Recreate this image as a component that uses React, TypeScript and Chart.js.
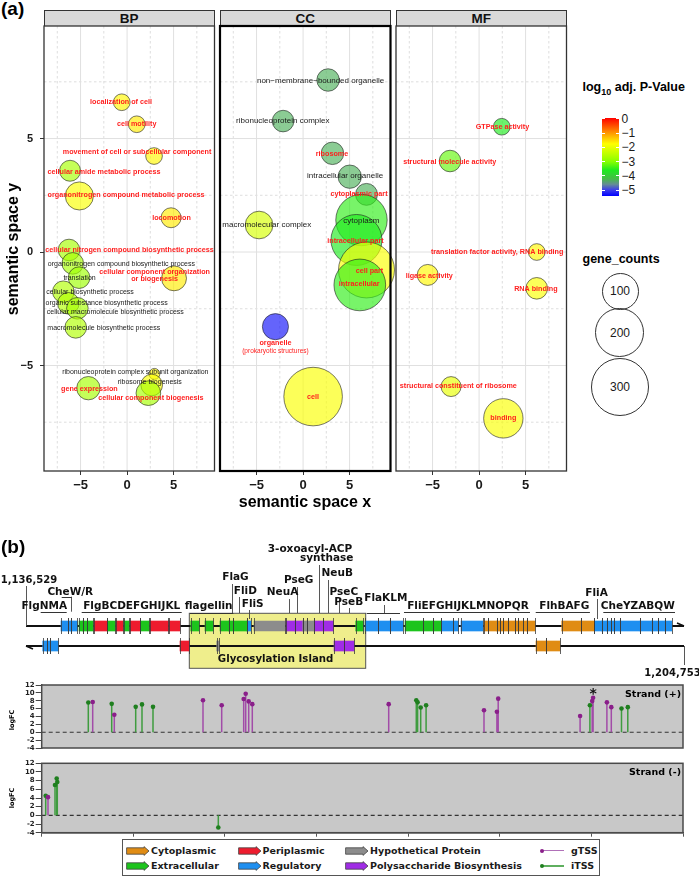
import React, { useEffect, useRef } from 'react';
import { Chart, registerables } from 'chart.js';

Chart.register(...registerables);

const SANS = '"Liberation Sans", Arial, Helvetica, sans-serif';
const VERD = '"DejaVu Sans", Verdana, sans-serif';

/* ================= (a) GO terms in semantic space ================= */
const X_MIN = -8.93, X_MAX = 9.4, Y_MIN = -9.65, Y_MAX = 9.96;
const majorGrid = [-5, 0, 5];
const minorGrid = [-7.5, -2.5, 2.5, 7.5];

// BP
const bpTerms = ['localization of cell', 'cell motility', 'movement of cell or subcellular component', 'cellular amide metabolic process', 'organonitrogen compound metabolic process', 'locomotion', 'cellular nitrogen compound biosynthetic process', 'organonitrogen compound biosynthetic process', 'translation', 'cellular biosynthetic process', 'organic substance biosynthetic process', 'cellular macromolecule biosynthetic process', 'macromolecule biosynthetic process', 'cellular component organization\nor biogenesis', 'ribonucleoprotein complex subunit organization', 'ribosome biogenesis', 'gene expression', 'cellular component biogenesis'];
const bpX = [-0.57, 1.04, 2.9, -6.13, -5.13, 4.73, -6.24, -5.84, -5.16, -6.85, -6.31, -5.34, -5.52, 5.05, 2.94, 2.65, -4.16, 2.29];
const bpY = [6.6, 5.63, 4.23, 3.58, 2.47, 1.51, 0.09, -0.5, -1.13, -1.75, -2.26, -2.48, -3.32, -1.16, -5.37, -5.86, -6.0, -6.22];
const bpCounts = [9, 9, 9, 20, 48, 17, 22, 22, 22, 22, 22, 22, 22, 34, 1, 22, 28, 33];
const bpLogP = [-1.7, -1.6, -1.7, -2.7, -1.8, -1.6, -2.7, -2.7, -2.8, -2.6, -2.6, -2.7, -2.6, -1.6, -1.7, -1.8, -2.7, -2.7];
const bpLabelX = [-0.65, 1.04, 1.08, -2.47, -0.11, 4.78, 0.27, -0.61, -5.11, -3.98, -2.2, -1.26, -2.51, 2.96, 0.89, 2.44, -4.05, 2.56];
const bpLabelY = [6.61, 5.64, 4.39, 3.54, 2.51, 1.5, 0.09, -0.53, -1.16, -1.78, -2.23, -2.63, -3.33, -1.04, -5.27, -5.73, -6.02, -6.44];
const bpSig = [1, 1, 1, 1, 1, 1, 1, 0, 0, 0, 0, 0, 0, 1, 0, 0, 1, 1];

// CC
const ccTerms = ['non\u2212membrane\u2212bounded organelle', 'ribonucleoprotein complex', 'ribosome', 'intracellular organelle', 'cytoplasmic part', 'macromolecular complex', 'cytoplasm', 'intracellular part', 'cell part', 'intracellular', 'organelle\n(prokaryotic structures)', 'cell'];
const ccX = [2.69, -2.15, 3.16, 5.02, 6.82, -4.73, 6.28, 5.74, 6.82, 6.1, -2.97, 1.08];
const ccY = [7.58, 5.77, 4.35, 3.32, 2.54, 1.19, 1.41, 0.53, -0.79, -1.45, -3.29, -6.37];
const ccCounts = [25, 22, 25, 28, 23, 46, 224, 220, 274, 227, 39, 304];
const ccLogP = [-4.3, -4.3, -4.3, -4.3, -4.3, -2.2, -3.5, -3.6, -1.8, -3.5, -5.3, -1.8];
const ccLabelX = [1.88, -2.18, 3.11, 4.52, 6.01, -3.9, 6.26, 5.63, 7.14, 6.04, -2.97, 1.08];
const ccLabelY = [7.56, 5.77, 4.32, 3.35, 2.57, 1.19, 1.37, 0.5, -0.82, -1.42, -4.19, -6.4];
const ccSig = [0, 0, 1, 0, 1, 0, 0, 1, 1, 1, 1, 1];

// MF
const mfTerms = ['GTPase activity', 'structural molecule activity', 'translation factor activity, RNA binding', 'ligase activity', 'RNA binding', 'structural constituent of ribosome', 'binding'];
const mfX = [2.44, -3.12, 6.2, -5.52, 6.2, -3.01, 2.61];
const mfY = [5.52, 4.01, 0.0, -1.01, -1.6, -5.93, -7.33];
const mfCounts = [9, 22, 9, 20, 22, 17, 117];
const mfLogP = [-3.6, -3.2, -1.7, -1.7, -1.8, -2.0, -1.8];
const mfLabelX = [2.51, -3.15, 1.94, -5.35, 6.11, -2.23, 2.61];
const mfLabelY = [5.51, 3.98, 0.01, -1.04, -1.64, -5.9, -7.33];
const mfSig = [1, 1, 1, 1, 1, 1, 1];

const pValueTicks = [0, -1, -2, -3, -4, -5];
const P_TOP = 0.07, P_BOTTOM = -5.42;
const sizeLegendCounts = [100, 200, 300];

/* ================= (b) flagellar locus ================= */
const GENOME_START = 1136529;
const GENOME_END = 1204753;
const MAP_MIN = 1133833, MAP_MAX = 1206308;
const GLYCO = [1153461, 1171750];

const fwdStart = [1140158, 1140915, 1141164, 1142024, 1142408, 1142885, 1143580, 1144959, 1145829, 1146690, 1147312, 1148380, 1149355, 1151325, 1153606, 1155088, 1156644, 1157546, 1158023, 1159412, 1160169, 1163487, 1164389, 1165219, 1165633, 1166390, 1167354, 1170714, 1171678, 1173057, 1174270, 1175825, 1177723, 1178760, 1179558, 1180833, 1181632, 1184016, 1184462, 1185333, 1185675, 1186017, 1186536, 1187230, 1187573, 1188091, 1188444, 1192072, 1194043, 1195453, 1196220, 1196738, 1197153, 1197495, 1198117, 1200191, 1201404, 1202088, 1202783];
const fwdEnd = [1140915, 1141164, 1141848, 1142408, 1142885, 1143507, 1144896, 1145788, 1146618, 1147240, 1148349, 1149313, 1151283, 1152496, 1154466, 1155949, 1157546, 1158023, 1159412, 1159827, 1163383, 1164389, 1165219, 1165633, 1166390, 1167354, 1168391, 1171502, 1173057, 1174270, 1175587, 1177723, 1178760, 1179558, 1180833, 1181352, 1183882, 1184462, 1185333, 1185675, 1186017, 1186536, 1187230, 1187573, 1188091, 1188444, 1189304, 1194043, 1195453, 1196220, 1196738, 1197153, 1197495, 1198117, 1200191, 1201404, 1202088, 1202783, 1203478];
const fwdType = ('RRREEEPEPEPEPP' + 'EEEEE' + 'R' + 'H' + 'SS' + 'HH' + 'SS' + 'E' + 'RRR' + 'EEE' + 'RRR' + 'CCCCCCCCCCCC' + 'RRRRRRRRRR').split('');
const revStart = [1138261, 1138675, 1139017, 1152496, 1156302, 1168464, 1169501, 1189408, 1190445];
const revEnd = [1138675, 1139017, 1139878, 1153429, 1156540, 1169501, 1170537, 1190445, 1191896];
const revType = 'RRRPHSSCC'.split('');

const typeCodes = ['C', 'E', 'P', 'R', 'H', 'S'];
const typeNames = ['Cytoplasmic', 'Extracellular', 'Periplasmic', 'Regulatory', 'Hypothetical Protein', 'Polysaccharide Biosynthesis'];
const typeColors = ['#E08C14', '#1DC41D', '#EE1C2E', '#1E8FF0', '#8C8C8C', '#A02CE6'];

const mapLabelText = ['1,136,529', 'CheW/R', 'FlgNMA', 'FlgBCDEFGHIJKL', 'flagellin', 'FlaG', 'FliD', 'FliS', 'NeuA', 'PseG', '3-oxoacyl-ACP', 'synthase', 'NeuB', 'PseC', 'PseB', 'FlaKLM', 'FliEFGHIJKLMNOPQR', 'FlhBAFG', 'FliA', 'CheYZABQW', '1,204,753'];
const mapLabelPos = [1136840, 1141122, 1138416, 1147488, 1155472, 1158251, 1159268, 1160035, 1163124, 1164803, 1165974, 1167706, 1168795, 1169479, 1169998, 1173835, 1182357, 1192343, 1195681, 1199962, 1203560];
const mapLabelRow = [580, 592.3, 606.7, 606.7, 606.7, 577.3, 591.7, 604, 592.7, 580.7, 549.3, 558.7, 573.3, 592, 602, 598.3, 606.7, 606.7, 593.3, 606.7, 673];
const underlineStart = [1138053, 1140230, 1142304, 1153533, 1171854, 1175721, 1189377, 1196386];
const underlineEnd = [1140749, 1141267, 1152672, 1158027, 1175307, 1188785, 1194999, 1203820];
const underlineRow = [611.7, 596.7, 612, 612.7, 613, 612, 612, 612];
const stemPos = [1141195, 1157857, 1158645, 1159682, 1163829, 1164658, 1166909, 1167873, 1168982, 1170019, 1173648, 1195763, GENOME_START, GENOME_END];
const stemTop = [596.7, 584, 597, 610, 599, 587, 565, 580, 598, 608, 605, 599, 586, 646];
const stemBottom = [611.7, 613, 613, 619, 613, 613, 613, 613, 613, 613, 613, 619, 626, 665];

// TSS lollipops (genome position, logFC)
const LOLLI_MIN = 1136446, LOLLI_MAX = 1204886;
const plusGPos = [1141889, 1144194, 1153660, 1155656, 1158003, 1158217, 1158537, 1158921, 1173478, 1183648, 1185025, 1185164, 1193904, 1195195, 1195291, 1196764, 1197234];
const plusGVal = [7.68, 4.43, 8.14, 6.84, 8.46, 9.76, 7.84, 7.14, 7.14, 5.59, 5.22, 8.53, 4.13, 7.91, 8.77, 7.6, 6.38];
const plusIPos = [1141419, 1143916, 1146478, 1147150, 1148324, 1176423, 1176562, 1176893, 1177469, 1194950, 1198322, 1198994];
const plusIVal = [7.54, 7.21, 6.45, 7.07, 6.45, 8.14, 7.6, 6.28, 6.84, 6.84, 6.05, 6.38];
const minusGPos = [1137118];
const minusGVal = [4.2];
const minusIPos = [1136873, 1137865, 1138047, 1138111, 1155293];
const minusIVal = [4.5, 7.0, 8.5, 7.7, -2.8];
const STAR_POS = 1195291;

/* ================= helpers ================= */
const radiusFor = (n: number) => 4 + 1.45 * Math.sqrt(n);

const colorStops: [number, number[]][] = [
  [-5.42, [0, 0, 255]],
  [-5.0, [60, 60, 235]],
  [-4.6, [100, 140, 150]],
  [-4.2, [70, 188, 70]],
  [-3.6, [30, 235, 30]],
  [-3.0, [135, 255, 0]],
  [-2.6, [176, 255, 0]],
  [-1.75, [255, 255, 0]],
  [-1.0, [255, 153, 0]],
  [0.07, [255, 0, 0]],
];
function pRGB(v: number): number[] {
  const s = colorStops;
  if (v <= s[0][0]) return s[0][1];
  for (let i = 1; i < s.length; i++) {
    if (v <= s[i][0]) {
      const t = (v - s[i - 1][0]) / (s[i][0] - s[i - 1][0]);
      return s[i - 1][1].map((c, k) => Math.round(c + t * (s[i][1][k] - c)));
    }
  }
  return s[s.length - 1][1];
}
const pColor = (v: number, a = 1) => {
  const [r, g, b] = pRGB(v);
  return `rgba(${r},${g},${b},${a})`;
};
const minus = (v: number) => (v < 0 ? '\u2212' + Math.abs(v) : String(v));

const panelPlugin = {
  id: 'goPanel',
  beforeDatasetsDraw(chart: any) {
    const { ctx, chartArea: a } = chart;
    const xs = chart.scales.x, ys = chart.scales.y;
    ctx.save();
    ctx.fillStyle = '#ffffff';
    ctx.fillRect(a.left, a.top, a.right - a.left, a.bottom - a.top);
    ctx.lineWidth = 0.8;
    ctx.strokeStyle = '#d6d6d6';
    ctx.setLineDash([2.5, 2.5]);
    ctx.beginPath();
    for (const v of minorGrid) {
      const px = xs.getPixelForValue(v);
      ctx.moveTo(px, a.top); ctx.lineTo(px, a.bottom);
      const py = ys.getPixelForValue(v);
      ctx.moveTo(a.left, py); ctx.lineTo(a.right, py);
    }
    ctx.stroke();
    ctx.setLineDash([]);
    ctx.lineWidth = 1;
    ctx.strokeStyle = '#e0e0e0';
    ctx.beginPath();
    for (const v of majorGrid) {
      const px = xs.getPixelForValue(v);
      ctx.moveTo(px, a.top); ctx.lineTo(px, a.bottom);
      const py = ys.getPixelForValue(v);
      ctx.moveTo(a.left, py); ctx.lineTo(a.right, py);
    }
    ctx.stroke();
    ctx.restore();
  },
  afterDatasetsDraw(chart: any, _args: any, o: any) {
    const { ctx } = chart;
    const xs = chart.scales.x, ys = chart.scales.y;
    ctx.save();
    ctx.textAlign = 'center';
    ctx.textBaseline = 'middle';
    o.texts.forEach((t: string, i: number) => {
      const px = xs.getPixelForValue(o.lx[i]);
      const py = ys.getPixelForValue(o.ly[i]);
      const lines = t.split('\n');
      const lh = 7.5;
      lines.forEach((ln, k) => {
        const yy = py + (k - (lines.length - 1) / 2) * lh;
        if (o.sig[i]) {
          ctx.fillStyle = '#ff1f1f';
          ctx.font = ln.startsWith('(') ? `6.5px ${SANS}` : `bold 7.2px ${SANS}`;
        } else {
          ctx.fillStyle = '#1a1a1a';
          ctx.font = `${o.plainSize}px ${SANS}`;
        }
        ctx.fillText(ln, px, yy);
      });
    });
    ctx.restore();
  },
  afterDraw(chart: any, _args: any, o: any) {
    const { ctx, chartArea: a } = chart;
    ctx.save();
    ctx.strokeStyle = o.borderColor;
    ctx.lineWidth = o.borderWidth;
    ctx.strokeRect(a.left, a.top, a.right - a.left, a.bottom - a.top);
    ctx.restore();
  },
};

const PANEL_CANVAS_TOP = 8;
const PANEL_TOP = 26;
const PANEL_BOTTOM = 471;

function GoPanel(props: any) {
  const { terms, xs, ys, counts, logp, lx, ly, sig, left, width, padL, padR, showY, plainSize, borderWidth, borderColor } = props;
  const ref = useRef<HTMLCanvasElement>(null);
  const top = PANEL_CANVAS_TOP, height = PANEL_BOTTOM - PANEL_CANVAS_TOP + 28;
  useEffect(() => {
    const chart = new Chart(ref.current as HTMLCanvasElement, {
      type: 'bubble',
      data: {
        datasets: [{
          data: xs.map((v: number, i: number) => ({ x: v, y: ys[i], r: radiusFor(counts[i]) })),
          backgroundColor: logp.map((v: number) => pColor(v, 0.65)),
          borderColor: 'rgba(30,30,30,0.75)',
          borderWidth: 0.8,
          clip: false,
        } as any],
      },
      options: {
        animation: false,
        responsive: false,
        events: [],
        layout: { autoPadding: false, padding: { left: padL, right: padR, top: PANEL_TOP - PANEL_CANVAS_TOP, bottom: 0 } },
        plugins: {
          legend: { display: false },
          tooltip: { enabled: false },
          goPanel: { texts: terms, lx, ly, sig, plainSize, borderWidth, borderColor },
        } as any,
        scales: {
          x: {
            type: 'linear', min: X_MIN, max: X_MAX,
            border: { display: false },
            grid: { display: true, drawOnChartArea: false, drawTicks: true, tickLength: 4, tickColor: '#333', tickWidth: 1 },
            ticks: { stepSize: 5, includeBounds: false, autoSkip: false, padding: 3, color: '#1a1a1a', font: { family: SANS, size: 13, weight: 'bold' }, callback: (v: any) => minus(Number(v)) },
            afterFit: (s: any) => { s.height = 28; },
          },
          y: {
            type: 'linear', min: Y_MIN, max: Y_MAX, display: showY,
            border: { display: false },
            grid: { display: true, drawOnChartArea: false, drawTicks: true, tickLength: 4, tickColor: '#333', tickWidth: 1 },
            ticks: { stepSize: 5, includeBounds: false, autoSkip: false, padding: 7, color: '#1a1a1a', font: { family: SANS, size: 11, weight: 'bold' }, callback: (v: any) => minus(Number(v)) },
            afterFit: (s: any) => { s.width = showY ? 44 : 0; },
          },
        } as any,
      },
      plugins: [panelPlugin],
    } as any);
    return () => chart.destroy();
  }, []);
  return <canvas ref={ref} width={width} height={height} style={{ position: 'absolute', left, top, width, height }} />;
}

/* ---------------- gene map ---------------- */
const GENE_TOP = 535;
const genePlugin = {
  id: 'geneMap',
  beforeDatasetsDraw(chart: any) {
    const { ctx } = chart;
    const x = chart.scales.x, y = chart.scales.y;
    const X = (v: number) => x.getPixelForValue(v);
    const yf = y.getPixelForValue(0), yr = y.getPixelForValue(1);
    ctx.save();
    const g1 = X(GLYCO[0]), g2 = X(GLYCO[1]);
    ctx.fillStyle = '#EFEE8C';
    ctx.fillRect(g1, yf - 12.7, g2 - g1, yr - yf + 35);
    ctx.strokeStyle = '#555';
    ctx.lineWidth = 1;
    ctx.strokeRect(g1, yf - 12.7, g2 - g1, yr - yf + 35);
    const xs = X(GENOME_START), xe = X(GENOME_END);
    ctx.strokeStyle = '#111';
    ctx.lineWidth = 2;
    ctx.beginPath();
    ctx.moveTo(xs, yf); ctx.lineTo(xe, yf);
    ctx.moveTo(xs, yr); ctx.lineTo(xe, yr);
    ctx.stroke();
    ctx.lineWidth = 1.6;
    ctx.beginPath();
    ctx.moveTo(xe - 7, yf - 3); ctx.lineTo(xe, yf);
    ctx.moveTo(xs + 7, yr + 3); ctx.lineTo(xs, yr);
    ctx.stroke();
    ctx.strokeStyle = '#444';
    ctx.lineWidth = 0.9;
    ctx.beginPath();
    stemPos.forEach((p, i) => {
      const px = Math.round(X(p)) + 0.5;
      ctx.moveTo(px, stemTop[i] - GENE_TOP); ctx.lineTo(px, stemBottom[i] - GENE_TOP);
    });
    ctx.stroke();
    ctx.strokeStyle = '#333';
    ctx.lineWidth = 1;
    ctx.beginPath();
    underlineStart.forEach((s, i) => {
      const py = Math.round(underlineRow[i] - GENE_TOP) + 0.5;
      ctx.moveTo(X(s), py); ctx.lineTo(X(underlineEnd[i]), py);
    });
    ctx.stroke();
    ctx.restore();
  },
  afterDatasetsDraw(chart: any) {
    const { ctx } = chart;
    const x = chart.scales.x, y = chart.scales.y;
    const X = (v: number) => x.getPixelForValue(v);
    const yf = y.getPixelForValue(0), yr = y.getPixelForValue(1);
    ctx.save();
    ctx.strokeStyle = '#3a3a3a';
    ctx.lineWidth = 0.8;
    ctx.beginPath();
    const tick = (v: number, yy: number) => {
      const px = Math.round(X(v)) + 0.5;
      ctx.moveTo(px, yy - 8); ctx.lineTo(px, yy + 8);
    };
    fwdStart.forEach((s, i) => { tick(s, yf); tick(fwdEnd[i], yf); });
    revStart.forEach((s, i) => { tick(s, yr); tick(revEnd[i], yr); });
    ctx.stroke();
    ctx.fillStyle = '#111';
    ctx.textAlign = 'center';
    ctx.textBaseline = 'middle';
    mapLabelText.forEach((t, i) => {
      ctx.font = t.startsWith('1,') ? `bold 10px ${VERD}` : `bold 10.5px ${VERD}`;
      ctx.fillText(t, X(mapLabelPos[i]), mapLabelRow[i] - GENE_TOP);
    });
    ctx.font = `bold 10.2px ${VERD}`;
    ctx.fillText('Glycosylation Island', X((GLYCO[0] + GLYCO[1]) / 2 - 200), yr + 13.5);
    ctx.restore();
  },
};

function GeneMap() {
  const ref = useRef<HTMLCanvasElement>(null);
  useEffect(() => {
    const datasets = typeCodes.map((code, ti) => {
      const data: any[] = [];
      fwdType.forEach((t, i) => { if (t === code) data.push({ x: [fwdStart[i], fwdEnd[i]], y: 'fwd' }); });
      revType.forEach((t, i) => { if (t === code) data.push({ x: [revStart[i], revEnd[i]], y: 'rev' }); });
      return { label: typeNames[ti], data, backgroundColor: typeColors[ti], borderWidth: 0, barThickness: 10, grouped: false };
    });
    const chart = new Chart(ref.current as HTMLCanvasElement, {
      type: 'bar',
      data: { labels: ['fwd', 'rev'], datasets },
      options: {
        indexAxis: 'y',
        animation: false,
        responsive: false,
        events: [],
        layout: { autoPadding: false, padding: { left: 0, right: 0, top: 81, bottom: 24 } },
        plugins: { legend: { display: false }, tooltip: { enabled: false } },
        scales: {
          x: { type: 'linear', min: MAP_MIN, max: MAP_MAX, display: false },
          y: { type: 'category', display: false, offset: true },
        },
      },
      plugins: [genePlugin],
    } as any);
    return () => chart.destroy();
  }, []);
  return <canvas ref={ref} width={699} height={145} style={{ position: 'absolute', left: 0, top: GENE_TOP, width: 699, height: 145 }} />;
}

/* ---------------- lollipop panels ---------------- */
const lolliPlugin = {
  id: 'lolli',
  beforeDatasetsDraw(chart: any) {
    const { ctx, chartArea: a } = chart;
    const y = chart.scales.y;
    const y0 = y.getPixelForValue(0);
    ctx.save();
    ctx.fillStyle = '#C8C8C8';
    ctx.fillRect(a.left, a.top, a.right - a.left, a.bottom - a.top);
    ctx.strokeStyle = '#333';
    ctx.lineWidth = 1.2;
    ctx.setLineDash([4, 3]);
    ctx.beginPath();
    ctx.moveTo(a.left, y0); ctx.lineTo(a.right, y0);
    ctx.stroke();
    ctx.setLineDash([]);
    chart.data.datasets.forEach((ds: any, di: number) => {
      const meta = chart.getDatasetMeta(di);
      ctx.strokeStyle = ds.stemColor;
      ctx.lineWidth = 1.5;
      ctx.beginPath();
      meta.data.forEach((pt: any) => { ctx.moveTo(pt.x, y0); ctx.lineTo(pt.x, pt.y); });
      ctx.stroke();
    });
    ctx.restore();
  },
  afterDraw(chart: any, _args: any, o: any) {
    const { ctx, chartArea: a } = chart;
    ctx.save();
    ctx.strokeStyle = '#4a4a4a';
    ctx.lineWidth = 1.5;
    ctx.strokeRect(a.left, a.top, a.right - a.left, a.bottom - a.top);
    if (o.star) {
      ctx.fillStyle = '#111';
      ctx.font = `bold 14px ${VERD}`;
      ctx.textAlign = 'center';
      ctx.textBaseline = 'middle';
      ctx.fillText('*', chart.scales.x.getPixelForValue(o.star), a.top + 9);
    }
    ctx.restore();
  },
};

function LolliPanel(props: any) {
  const { top, height, padTop, padBottom, showX, gPos, gVal, iPos, iVal, star } = props;
  const ref = useRef<HTMLCanvasElement>(null);
  useEffect(() => {
    const chart = new Chart(ref.current as HTMLCanvasElement, {
      type: 'scatter',
      data: {
        datasets: [
          { label: 'gTSS', data: gPos.map((p: number, i: number) => ({ x: p, y: gVal[i] })), pointRadius: 2.3, pointBackgroundColor: '#8A1F8A', pointBorderWidth: 0, stemColor: '#A24CA8' },
          { label: 'iTSS', data: iPos.map((p: number, i: number) => ({ x: p, y: iVal[i] })), pointRadius: 2.3, pointBackgroundColor: '#1F7F1F', pointBorderWidth: 0, stemColor: '#3F9C3F' },
        ] as any,
      },
      options: {
        animation: false,
        responsive: false,
        events: [],
        layout: { autoPadding: false, padding: { left: 0, right: 16, top: padTop, bottom: padBottom } },
        plugins: { legend: { display: false }, tooltip: { enabled: false }, lolli: { star } } as any,
        scales: {
          x: {
            type: 'linear', min: LOLLI_MIN, max: LOLLI_MAX, display: showX,
            ticks: { display: false, stepSize: 10000, includeBounds: false, autoSkip: false },
            grid: { display: true, drawOnChartArea: false, drawTicks: true, tickLength: 4, tickColor: '#555' },
            border: { display: true, color: '#4a4a4a', width: 1.5 },
            afterFit: (s: any) => { s.height = 6; },
          },
          y: {
            type: 'linear', min: -4, max: 12,
            ticks: { stepSize: 2, autoSkip: false, padding: 1, color: '#222', font: { family: VERD, size: 7, weight: 'bold', lineHeight: 1 }, callback: (v: any) => String(v) },
            grid: { display: true, drawOnChartArea: false, drawTicks: true, tickLength: 6, tickColor: '#444' },
            border: { display: true, color: '#4a4a4a', width: 1.5 },
            afterFit: (s: any) => { s.width = 41.7; },
          },
        } as any,
      },
      plugins: [lolliPlugin],
    } as any);
    return () => chart.destroy();
  }, []);
  return <canvas ref={ref} width={699} height={height} style={{ position: 'absolute', left: 0, top, width: 699, height }} />;
}

/* ---------------- text helpers ---------------- */
function Txt(props: any) {
  const { x, y, children, size = 12, bold = false, family = SANS, color = '#000', align = 'center', rotate = 0 } = props;
  const tx = align === 'left' ? '0' : align === 'right' ? '-100%' : '-50%';
  return (
    <div style={{ position: 'absolute', left: x, top: y, transform: `translate(${tx},-50%)` + (rotate ? ` rotate(${rotate}deg)` : ''), fontSize: size, fontWeight: bold ? 700 : 400, fontFamily: family, color, whiteSpace: 'nowrap', lineHeight: 1 }}>
      {children}
    </div>
  );
}

function LegendArrow({ x, y, color }: any) {
  return (
    <svg width={24} height={10} style={{ position: 'absolute', left: x, top: y - 5 }}>
      <polygon points="0.6,1.8 18,1.8 18,0.6 23,5 18,9.4 18,8.2 0.6,8.2" fill={color} stroke="#444" strokeWidth={0.8} />
    </svg>
  );
}

const panels = [
  { name: 'BP', l: 44, r: 214.5 },
  { name: 'CC', l: 220, r: 390.5 },
  { name: 'MF', l: 396, r: 566.5 },
];

export default function App() {
  const gradient = (() => {
    const parts = [...colorStops].reverse().map(([v, c]) => `rgb(${c[0]},${c[1]},${c[2]}) ${(((P_TOP - v) / (P_TOP - P_BOTTOM)) * 100).toFixed(1)}%`);
    return `linear-gradient(to bottom, ${parts.join(', ')})`;
  })();
  const barY = (v: number) => 118 + ((P_TOP - v) / (P_TOP - P_BOTTOM)) * 78;
  const sizeCy = [291, 333, 387];
  const rows = [850.7, 866];
  return (
    <div style={{ position: 'absolute', left: 0, top: 0, width: 699, height: 877, background: '#fff', overflow: 'hidden' }}>
      <Txt x={1} y={8} align="left" size={19} bold>(a)</Txt>
      {panels.map((p) => (
        <div key={p.name} style={{ position: 'absolute', left: p.l, top: 10, width: p.r - p.l, height: 16.5, boxSizing: 'border-box', background: '#D9D9D9', border: '1px solid #333', fontFamily: SANS, fontWeight: 700, fontSize: 13.5, lineHeight: '15px', textAlign: 'center', color: '#111' }}>{p.name}</div>
      ))}
      <GoPanel terms={bpTerms} xs={bpX} ys={bpY} counts={bpCounts} logp={bpLogP} lx={bpLabelX} ly={bpLabelY} sig={bpSig} left={0} width={222} padL={0} padR={7.5} showY={true} plainSize={7} borderWidth={1.3} borderColor="#333" />
      <GoPanel terms={ccTerms} xs={ccX} ys={ccY} counts={ccCounts} logp={ccLogP} lx={ccLabelX} ly={ccLabelY} sig={ccSig} left={212} width={190} padL={8} padR={11.5} showY={false} plainSize={8} borderWidth={2.2} borderColor="#000" />
      <GoPanel terms={mfTerms} xs={mfX} ys={mfY} counts={mfCounts} logp={mfLogP} lx={mfLabelX} ly={mfLabelY} sig={mfSig} left={388} width={186} padL={8} padR={7.5} showY={false} plainSize={7} borderWidth={1.3} borderColor="#333" />
      <Txt x={13} y={248.5} size={16} bold rotate={-90}>semantic space y</Txt>
      <Txt x={305} y={502} size={16} bold>semantic space x</Txt>

      <div style={{ position: 'absolute', left: 582.5, top: 81, fontFamily: SANS, fontWeight: 700, fontSize: 12.5, whiteSpace: 'nowrap', lineHeight: 1 }}>
        log<sub style={{ fontSize: 9, verticalAlign: -4 }}>10</sub> adj. P-Value
      </div>
      <div style={{ position: 'absolute', left: 602, top: 118, width: 17, height: 78, background: gradient }} />
      {pValueTicks.map((v) => (
        <React.Fragment key={v}>
          <div style={{ position: 'absolute', left: 602, top: barY(v) - 0.5, width: 3.4, height: 1, background: '#fff' }} />
          <div style={{ position: 'absolute', left: 615.6, top: barY(v) - 0.5, width: 3.4, height: 1, background: '#fff' }} />
          <Txt x={621.5} y={barY(v)} size={12} align="left" color="#1a1a1a">{minus(v)}</Txt>
        </React.Fragment>
      ))}
      <Txt x={582.5} y={258.5} size={12.5} bold align="left">gene_counts</Txt>
      {sizeLegendCounts.map((c, i) => {
        const r = radiusFor(c);
        return (
          <React.Fragment key={c}>
            <div style={{ position: 'absolute', left: 620 - r, top: sizeCy[i] - r, width: 2 * r, height: 2 * r, borderRadius: '50%', boxSizing: 'border-box', border: '1.3px solid #333' }} />
            <Txt x={620} y={sizeCy[i]} size={12} color="#1a1a1a">{String(c)}</Txt>
          </React.Fragment>
        );
      })}

      <Txt x={1} y={546} align="left" size={19} bold>(b)</Txt>
      <GeneMap />
      <LolliPanel top={677} height={81} padTop={8} padBottom={4} showX={false} gPos={plusGPos} gVal={plusGVal} iPos={plusIPos} iVal={plusIVal} star={STAR_POS} />
      <LolliPanel top={755} height={84} padTop={8.3} padBottom={0.3} showX={true} gPos={minusGPos} gVal={minusGVal} iPos={minusIPos} iVal={minusIVal} star={0} />
      <Txt x={12} y={720} size={6.5} bold family={VERD} rotate={-90}>logFC</Txt>
      <Txt x={12} y={798} size={6.5} bold family={VERD} rotate={-90}>logFC</Txt>
      <Txt x={681} y={693.5} size={9.5} bold family={VERD} align="right">Strand (+)</Txt>
      <Txt x={681} y={771.7} size={9.5} bold family={VERD} align="right">Strand (-)</Txt>

      <div style={{ position: 'absolute', left: 122, top: 839, width: 478, height: 37, boxSizing: 'border-box', border: '1px solid #555', background: '#fff' }} />
      {[
        { i: 0, x: 126, row: 0 }, { i: 1, x: 126, row: 1 },
        { i: 2, x: 237.5, row: 0 }, { i: 3, x: 237.5, row: 1 },
        { i: 4, x: 345, row: 0 }, { i: 5, x: 345, row: 1 },
      ].map((e) => (
        <React.Fragment key={e.i}>
          <LegendArrow x={e.x} y={rows[e.row]} color={typeColors[e.i]} />
          <Txt x={e.x + 25} y={rows[e.row]} size={9.5} bold family={VERD} align="left" color="#1a1a1a">{typeNames[e.i]}</Txt>
        </React.Fragment>
      ))}
      {[{ t: 'gTSS', c: '#B070B8', d: '#8A1F8A', row: 0 }, { t: 'iTSS', c: '#5FAF5F', d: '#1F7F1F', row: 1 }].map((e) => (
        <React.Fragment key={e.t}>
          <div style={{ position: 'absolute', left: 542, top: rows[e.row] - 0.6, width: 22, height: 1.3, background: e.c }} />
          <div style={{ position: 'absolute', left: 540, top: rows[e.row] - 2, width: 4, height: 4, borderRadius: '50%', background: e.d }} />
          <Txt x={571} y={rows[e.row]} size={9.5} bold family={VERD} align="left" color="#1a1a1a">{e.t}</Txt>
        </React.Fragment>
      ))}
    </div>
  );
}
